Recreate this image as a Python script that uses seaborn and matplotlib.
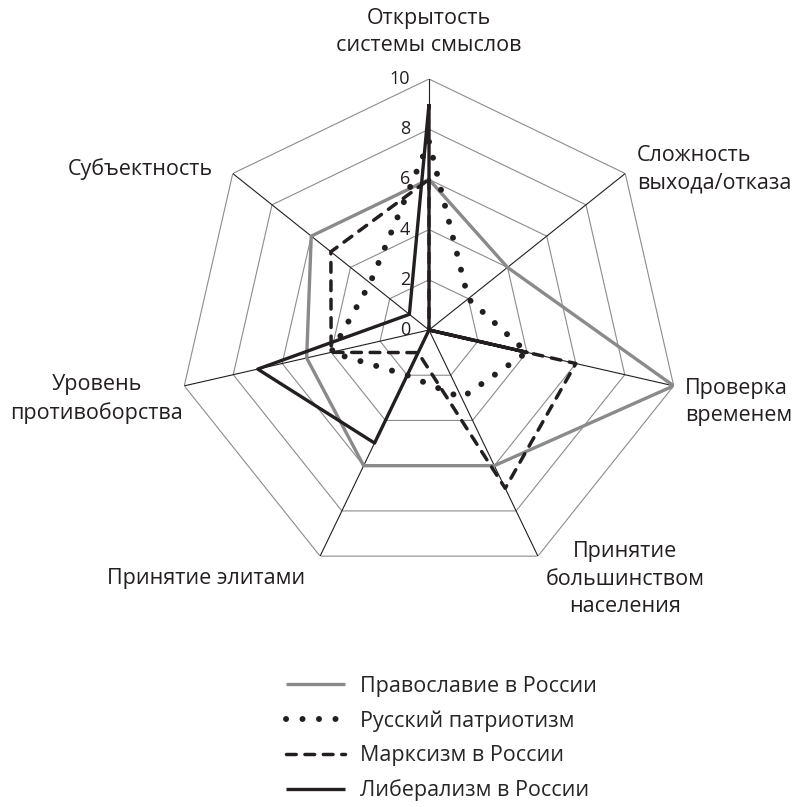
import numpy as np
import pandas as pd
import seaborn as sns
import matplotlib.pyplot as plt

# --- Data ---
categories = [
    "Открытость\nсистемы смыслов",
    "Сложность\nвыхода/отказа",
    "Проверка\nвременем",
    "Принятие\nбольшинством\nнаселения",
    "Принятие элитами",
    "Уровень\nпротивоборства",
    "Субъектность",
]
series_names = ["Православие в России", "Русский патриотизм",
                "Марксизм в России", "Либерализм в России"]
orthodoxy = [6, 4, 10, 6, 6, 5, 6]
patriotism = [7.5, 2, 4, 3, 2, 4, 3]
marxism = [6, 0, 6, 7, 1, 4, 5]
liberalism = [9, 0, 4, 0, 5, 7, 1]
r_ticks = [0, 2, 4, 6, 8, 10]

# --- Styling ---
INK = '#231f20'
series_styles = [
    dict(color='#8a8a8a', lw=2.4, ls='-'),
    dict(color=INK, lw=4.3, ls=(0, (0.01, 2.75))),
    dict(color=INK, lw=2.5, ls=(0, (2.8, 2.5))),
    dict(color=INK, lw=2.4, ls='-'),
]
# label placement relative to the outer vertex of each axis (pixels)
label_offsets = [(0, 47), (12, 4), (11, -16), (87, -23), (-15, -22), (-1, -13), (-20, 4)]
label_ha = ['center', 'left', 'left', 'center', 'right', 'right', 'right']
label_ma = ['center', 'left', 'left', 'center', 'center', 'center', 'center']

sns.set_style('white')
plt.rcParams['font.family'] = ['Open Sans', 'DejaVu Sans']

n = len(categories)
theta = np.linspace(0, 2 * np.pi, n, endpoint=False)
theta_closed = np.append(theta, theta[0])

rows = []
for name, vals in zip(series_names, [orthodoxy, patriotism, marxism, liberalism]):
    for t, v in zip(theta_closed, list(vals) + [vals[0]]):
        rows.append((name, t, v))
df = pd.DataFrame(rows, columns=['series', 'theta', 'value'])

fig = plt.figure(figsize=(7.99, 8.07), dpi=100)
ax = fig.add_axes([178 / 799, 226 / 807, 502 / 799, 502 / 807], projection='polar')
ax.set_theta_zero_location('N')
ax.set_theta_direction(-1)
ax.set_ylim(0, 10)
ax.grid(False)
ax.set_xticks([])
ax.set_yticks([])
ax.spines['polar'].set_visible(False)

# heptagon grid
for r in r_ticks[1:]:
    ax.plot(theta_closed, [r] * (n + 1), color='#8c8c8c', lw=0.8, zorder=1)
for t in theta:
    ax.plot([t, t], [0, 10], color=INK, lw=0.8, zorder=1)

# series
for name, st in zip(series_names, series_styles):
    sub = df[df['series'] == name]
    sns.lineplot(data=sub, x='theta', y='value', ax=ax, sort=False, estimator=None,
                 color=st['color'], lw=st['lw'], linestyle=st['ls'], label=name,
                 legend=False, zorder=3)
    ax.lines[-1].set_dash_capstyle('round')
    ax.lines[-1].set_solid_capstyle('butt')

# radial tick labels
for t in r_ticks:
    ax.annotate(str(t), xy=(0, t), xytext=(-19, 0), textcoords='offset pixels',
                ha='right', va='center', fontsize=13, color=INK)

# category labels
for t, lab, off, ha, ma in zip(theta, categories, label_offsets, label_ha, label_ma):
    ax.annotate(lab, xy=(t, 10), xytext=off, textcoords='offset pixels',
                ha=ha, va='center', multialignment=ma, fontsize=15.5,
                linespacing=1.4, color=INK, annotation_clip=False)

ax.set_xlabel('')
ax.set_ylabel('')

fig.legend(loc='upper left', bbox_to_anchor=(286 / 799, 1 - 676 / 807),
           frameon=False, handlelength=2.75, handletextpad=0.7,
           labelspacing=0.62, fontsize=15.5, borderpad=0, borderaxespad=0)

fig.savefig('out.png', dpi=100)
